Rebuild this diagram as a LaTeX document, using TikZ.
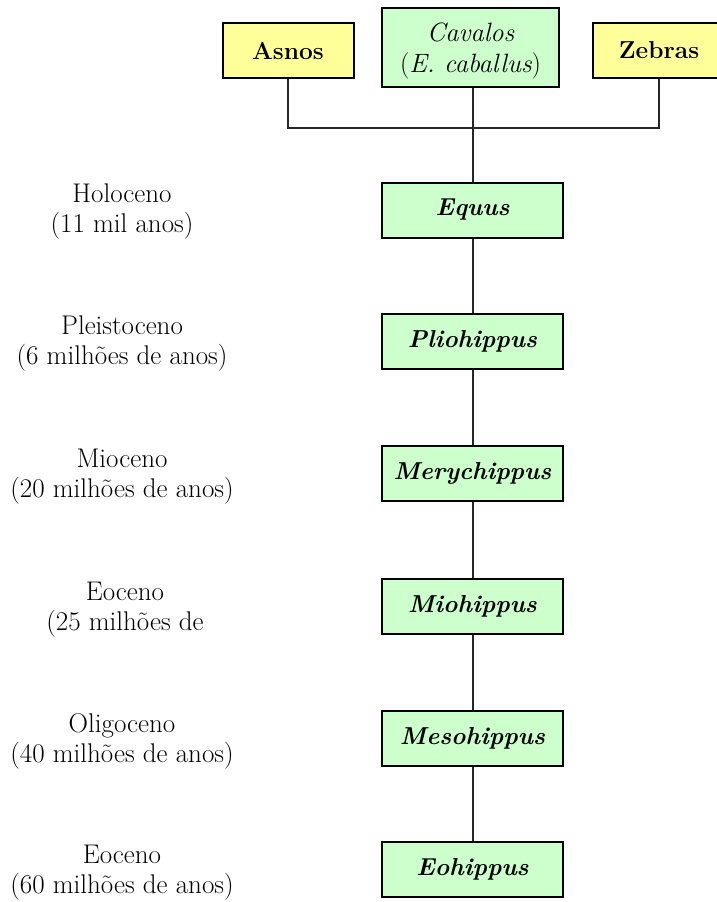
\documentclass[tikz,border=0pt]{standalone}
\usepackage{fontspec}
\definecolor{gfill}{HTML}{CCFFCC}
\definecolor{yfill}{HTML}{FFFF99}
\begin{document}
\begin{tikzpicture}[x=1pt,y=-1pt,
  every node/.style={font=\fontsize{27}{30}\selectfont},
  genbox/.style={draw=black, line width=2pt, fill=gfill, minimum width=181pt, minimum height=55pt, inner sep=0pt, font=\fontsize{24.5}{30}\selectfont\bfseries\itshape},
  sidebox/.style={draw=black, line width=2pt, fill=yfill, minimum height=55pt, inner sep=0pt, font=\fontsize{24.5}{30}\selectfont\bfseries},
  era/.style={align=center, inner sep=0pt},
  link/.style={line width=2pt, draw=black!85}]
\useasboundingbox (0,0) rectangle (717,902);
\clip (0,0) rectangle (717,902);
% top row
\node[sidebox, minimum width=131pt] (asnos) at (288,50.5) {Asnos};
\node[draw=black, line width=2pt, fill=gfill, minimum width=177pt, minimum height=79pt, inner sep=0pt, align=center, font=\fontsize{26.5}{31}\selectfont\itshape] (cav) at (470.5,47.5) {\rule{0pt}{26pt}Cavalos\\\upshape(\itshape E. caballus\upshape)};
\node[sidebox, minimum width=132pt] (zeb) at (659,50.5) {Zebras};
% genera
\node[genbox] (equus) at (472.5,210) {Equus};
\node[genbox] (plio) at (472.5,341.5) {Pliohippus};
\node[genbox] (mery) at (472.5,473.5) {Merychippus};
\node[genbox] (mio) at (472.5,606) {Miohippus};
\node[genbox] (meso) at (472.5,738) {Mesohippus};
\node[genbox] (eo) at (472.5,869.5) {Eohippus};
% eras
\node[era] (e1) at (122,212) {Holoceno\\(11 mil anos)};
\node[era] (e2) at (122,344) {Pleistoceno\\(6 milhões de anos)};
\node[era] (e3) at (122,477) {Mioceno\\(20 milhões de anos)};
\node[era] (e4) at (125,610) {Eoceno\\(25 milhões de};
\node[era] (e5) at (122,741) {Oligoceno\\(40 milhões de anos)};
\node[era] (e6) at (122,873) {Eoceno\\(60 milhões de anos)};
% connectors
\coordinate (j) at (472.5,128);
\draw[link] (asnos.south) |- (j) -| (zeb.south);
\draw[link] (cav.south -| j) -- (equus.north);
\draw[link] (equus) -- (plio);
\draw[link] (plio) -- (mery);
\draw[link] (mery) -- (mio);
\draw[link] (mio) -- (meso);
\draw[link] (meso) -- (eo);
\end{tikzpicture}
\end{document}
